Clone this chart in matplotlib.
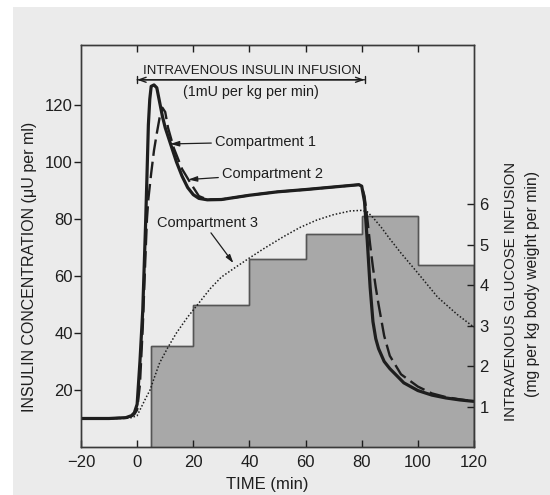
import matplotlib
matplotlib.use("Agg")
import matplotlib.pyplot as plt
from matplotlib.patches import Rectangle

plt.rcParams['font.family'] = ['Liberation Sans', 'DejaVu Sans']

# ---- data ----
time_c1 = [-20, -10, -4, -2, -1, 0, 1, 2, 3, 3.5, 4, 4.5, 5, 6, 7, 8, 9, 10, 12, 14, 16, 18, 20, 22,
           25, 30, 40, 50, 60, 70, 79, 80, 81, 82, 83, 84, 85, 86, 88, 90, 95, 100, 105, 110, 115, 120]
ins_c1 = [10, 10, 10.3, 11, 12, 15, 30, 48, 78, 95, 113, 122, 126.5, 127, 126, 121, 116, 112, 106, 100,
          95, 91, 88.5, 87.2, 86.7, 86.8, 88.3, 89.5, 90.3, 91.2, 92, 91.5, 86, 72, 56, 44, 38, 34.5,
          30, 27.5, 22.5, 19.8, 18.2, 17.2, 16.5, 16]

time_c2 = [-20, -10, -4, -2, -1, 0, 1, 2, 3, 3.5, 4, 5, 6, 7, 8, 9, 10, 11, 13, 16, 19, 22,
           25, 30, 40, 50, 60, 70, 79, 80, 81, 82, 83, 84, 85, 86, 88, 90, 94, 100, 105, 110, 115, 120]
ins_c2 = [10, 10, 10.3, 10.8, 11.5, 13, 22, 42, 68, 80, 87, 96, 104, 110, 115.5, 119, 117.5, 112, 105,
          97.5, 92.6, 88, 86.8, 86.8, 88.3, 89.5, 90.3, 91.2, 92, 91.5, 88, 80, 71, 63, 56, 50, 39,
          32, 25.5, 21.2, 18.8, 17.5, 16.7, 16]

time_c3 = [-20, -10, -5, -2, 0, 1, 2, 3, 4.6, 6, 8, 11, 14, 18, 22, 26, 30, 35, 40, 45, 52, 58, 64,
           70, 76, 80, 82, 84, 87, 90, 94, 100, 107, 114, 120]
ins_c3 = [10, 10, 10, 10.3, 11, 13, 15, 17, 20, 24, 29.5, 35, 40, 45.6, 50.5, 55.5, 59.6, 63, 66.3,
          69.5, 73.7, 77, 79.6, 81.5, 82.8, 83, 82.5, 80.5, 77, 73, 68, 61, 52.6, 46.5, 42]

glucose_edges = [5, 20, 40, 60, 80, 100, 120]
glucose_rate = [2.5, 3.5, 4.65, 5.25, 5.7, 4.5]

x_ticks = [-20, 0, 20, 40, 60, 80, 100, 120]
top_ticks = [0, 20, 40, 60, 80, 100]
left_ticks = [20, 40, 60, 80, 100, 120]
right_ticks = [1, 2, 3, 4, 5, 6]

# ---- styling ----
paper = '#ebebeb'
ink = '#1e1e1e'
fill = '#a8a8a8'

fig = plt.figure(figsize=(5.5, 4.95), dpi=100, facecolor='white')
fig.patches.append(Rectangle((13 / 550, 0), 1, (495 - 7) / 495, transform=fig.transFigure,
                             facecolor=paper, edgecolor='none', zorder=-10))

ax = fig.add_axes([81 / 550, 48 / 495, 393 / 550, 402 / 495])
ax2 = ax.twinx()
ax.set_zorder(2)
ax.patch.set_visible(False)
ax2.set_zorder(1)
ax2.patch.set_visible(True)
ax2.patch.set_facecolor(paper)

# glucose infusion histogram
ax2.stairs(glucose_rate, glucose_edges, fill=True, facecolor=fill, edgecolor='#555555',
           linewidth=1.0, baseline=0)
ax2.stairs(glucose_rate, glucose_edges, fill=False, edgecolor='#555555', linewidth=1.0, baseline=0)

# insulin curves
ax.plot(time_c3, ins_c3, color=ink, lw=1.1, linestyle=(0, (1, 1.3)))
ax.plot(time_c1, ins_c1, color=ink, lw=2.3, solid_capstyle='butt', solid_joinstyle='round')
ax.plot(time_c2, ins_c2, color=ink, lw=1.7, linestyle=(0, (7, 2.5)))

ax.set_xlim(-20, 120)
ax.set_ylim(0, 141)
ax2.set_ylim(0, 9.93)

for sp in list(ax.spines.values()) + list(ax2.spines.values()):
    sp.set_color('#3a3a3a')
    sp.set_linewidth(1.0)

ax.set_xticks(x_ticks)
ax.set_xticklabels([f"{t}" if t >= 0 else f"\u2212{abs(t)}" for t in x_ticks])
ax.set_yticks(left_ticks)
ax.tick_params(axis='x', direction='in', length=5, width=1, pad=6, labelsize=12, colors=ink)
ax.tick_params(axis='y', direction='out', length=5, width=1, pad=1, labelsize=12, colors=ink)
ax2.set_yticks(right_ticks)
ax2.tick_params(axis='y', direction='in', length=5, width=1, pad=4, labelsize=12, colors=ink)

# top ticks
axt = ax.secondary_xaxis('top')
axt.set_xticks(top_ticks)
axt.set_xticklabels([])
axt.tick_params(direction='in', length=5, width=1, colors=ink)
axt.spines['top'].set_visible(False)

# axis labels
fig.text(30 / 550, (495 - 267) / 495, 'INSULIN CONCENTRATION (\u03bcU per ml)', rotation=90,
         ha='center', va='center', fontsize=11.5, color=ink)
fig.text(267 / 550, (495 - 485) / 495, 'TIME (min)', ha='center', va='center', fontsize=12,
         color=ink)
fig.text(511 / 550, (495 - 291) / 495, 'INTRAVENOUS GLUCOSE INFUSION', rotation=90,
         ha='center', va='center', fontsize=10.7, color=ink)
fig.text(532 / 550, (495 - 284) / 495, '(mg per kg body weight per min)', rotation=90,
         ha='center', va='center', fontsize=11.3, color=ink)

# infusion bracket
ax.text(41, 132, 'INTRAVENOUS INSULIN INFUSION', ha='center', va='center', fontsize=9.5, color=ink)
ax.text(40.5, 124.6, '(1mU per kg per min)', ha='center', va='center', fontsize=10.3, color=ink)
ax.annotate('', xy=(0, 128.8), xytext=(81, 128.8),
            arrowprops=dict(arrowstyle='<->,head_length=0.5,head_width=0.18', color=ink, lw=1,
                            shrinkA=0, shrinkB=0))
ax.annotate('', xy=(0, 128.8), xytext=(81, 128.8),
            arrowprops=dict(arrowstyle='|-|,widthA=0.25,widthB=0.25', color=ink, lw=1,
                            shrinkA=0, shrinkB=0))

# compartment labels
arrow_kw = dict(arrowstyle='-|>,head_length=0.5,head_width=0.15', color=ink, lw=0.9,
                shrinkA=1, shrinkB=0)
ax.annotate('Compartment 1', xy=(11.8, 106.3), xytext=(27.9, 107), ha='left', va='center',
            fontsize=10.5, color=ink, arrowprops=arrow_kw)
ax.annotate('Compartment 2', xy=(18.2, 93.8), xytext=(30.4, 95.8), ha='left', va='center',
            fontsize=10.5, color=ink, arrowprops=arrow_kw)
ax.text(7.1, 78.6, 'Compartment 3', ha='left', va='center', fontsize=10.5, color=ink)
ax.annotate('', xy=(34.3, 64.5), xytext=(26.0, 75.5), arrowprops=arrow_kw)

fig.savefig('out.png', dpi=100, facecolor=fig.get_facecolor())
